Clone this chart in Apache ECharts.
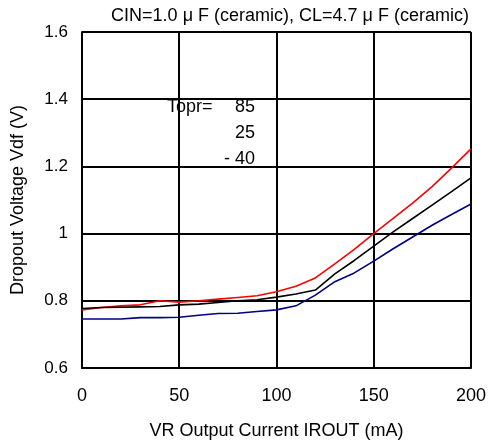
<!DOCTYPE html>
<html lang="en">
<head>
    <meta charset="UTF-8">
    <title>Dropout Voltage</title>
    <script src="https://cdn.jsdelivr.net/npm/echarts@6/dist/echarts.min.js"></script>
</head>
<body style="margin:0">
<div id="main" style="width:489px;height:448px"></div>
<script>
    // 输出电流 (mA)
    var current = [0, 10, 20, 30, 40, 50, 60, 70, 80, 90, 100, 110, 120, 130, 140, 150, 160, 170, 180, 190, 200];
    // Vdf (V) at Topr = 85 / 25 / -40
    var vdf85 = [0.773, 0.780, 0.785, 0.788, 0.800, 0.796, 0.800, 0.805, 0.810, 0.815, 0.827, 0.843, 0.868, 0.910, 0.953, 1.000, 1.045, 1.091, 1.140, 1.195, 1.252];
    var vdf25 = [0.777, 0.780, 0.781, 0.782, 0.783, 0.788, 0.790, 0.795, 0.800, 0.803, 0.811, 0.820, 0.832, 0.880, 0.920, 0.963, 1.005, 1.045, 1.085, 1.125, 1.166];
    var vdfM40 = [0.746, 0.746, 0.746, 0.750, 0.750, 0.751, 0.757, 0.762, 0.763, 0.768, 0.773, 0.785, 0.817, 0.857, 0.883, 0.918, 0.955, 0.990, 1.025, 1.057, 1.088];
    var tempLabels = ['85', '25', '- 40'];

    function pairs(ys) {
        return current.map(function (x, i) { return [x, ys[i]]; });
    }

    var font = 'Arial, "Liberation Sans", sans-serif';
    var myChart = echarts.init(document.getElementById('main'));

    var graphics = [{
        type: 'text', x: 167, y: 107,
        style: {text: 'Topr=', font: '18px ' + font, fill: '#000', verticalAlign: 'middle'}
    }];
    for (var i = 0; i < tempLabels.length; i++) {
        graphics.push({
            type: 'text', x: 255, y: 107 + i * 26,
            style: {text: tempLabels[i], font: '18px ' + font, fill: '#000', align: 'right', verticalAlign: 'middle'}
        });
    }

    var option = {
        animation: false,
        title: {
            text: 'CIN=1.0 μ F (ceramic), CL=4.7 μ F (ceramic)',
            left: 285, top: 2, textAlign: 'center',
            textStyle: {fontSize: 18, fontWeight: 'normal', color: '#000', fontFamily: font}
        },
        grid: {left: 82, right: 17, top: 32, bottom: 80},
        xAxis: {
            type: 'value', min: 0, max: 200, interval: 50,
            name: 'VR Output Current IROUT (mA)',
            nameLocation: 'middle', nameGap: 54,
            nameTextStyle: {fontSize: 18, color: '#000', fontFamily: font},
            axisLine: {show: true, lineStyle: {color: '#000', width: 2}},
            axisTick: {show: false},
            axisLabel: {fontSize: 18, color: '#000', fontFamily: font, margin: 19},
            splitLine: {show: true, lineStyle: {color: '#000', width: 2}}
        },
        yAxis: {
            type: 'value', min: 0.6, max: 1.6, interval: 0.2,
            name: 'Dropout Voltage Vdf (V)',
            nameLocation: 'middle', nameGap: 55,
            nameTextStyle: {fontSize: 18, color: '#000', fontFamily: font},
            axisLine: {show: true, lineStyle: {color: '#000', width: 2}},
            axisTick: {show: false},
            axisLabel: {fontSize: 17, color: '#000', fontFamily: font, margin: 14},
            splitLine: {show: true, lineStyle: {color: '#000', width: 2}}
        },
        graphic: graphics,
        series: [
            {name: '85', type: 'line', data: pairs(vdf85), symbol: 'none', lineStyle: {color: '#ff0000', width: 1.6}},
            {name: '25', type: 'line', data: pairs(vdf25), symbol: 'none', lineStyle: {color: '#000000', width: 1.6}},
            {name: '-40', type: 'line', data: pairs(vdfM40), symbol: 'none', lineStyle: {color: '#000080', width: 1.6}}
        ]
    };
    myChart.setOption(option);
</script>
</body>
</html>
